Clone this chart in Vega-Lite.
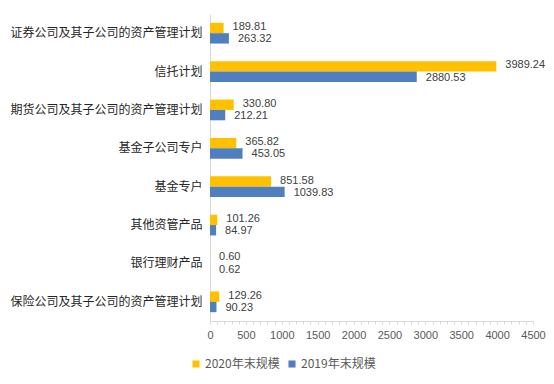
{
  "$schema": "https://vega.github.io/schema/vega-lite/v6.json",
  "width": 323,
  "height": 307,
  "autosize": {"type": "none"},
  "padding": {"left": 210, "top": 14, "right": 21, "bottom": 63},
  "background": "white",
  "config": {
    "view": {"stroke": null},
    "font": "Noto Sans CJK SC"
  },
  "data": {
    "values": [
      {"category": "证券公司及其子公司的资产管理计划", "series": "2020年末规模", "value": 189.81},
      {"category": "证券公司及其子公司的资产管理计划", "series": "2019年末规模", "value": 263.32},
      {"category": "信托计划", "series": "2020年末规模", "value": 3989.24},
      {"category": "信托计划", "series": "2019年末规模", "value": 2880.53},
      {"category": "期货公司及其子公司的资产管理计划", "series": "2020年末规模", "value": 330.80},
      {"category": "期货公司及其子公司的资产管理计划", "series": "2019年末规模", "value": 212.21},
      {"category": "基金子公司专户", "series": "2020年末规模", "value": 365.82},
      {"category": "基金子公司专户", "series": "2019年末规模", "value": 453.05},
      {"category": "基金专户", "series": "2020年末规模", "value": 851.58},
      {"category": "基金专户", "series": "2019年末规模", "value": 1039.83},
      {"category": "其他资管产品", "series": "2020年末规模", "value": 101.26},
      {"category": "其他资管产品", "series": "2019年末规模", "value": 84.97},
      {"category": "银行理财产品", "series": "2020年末规模", "value": 0.60},
      {"category": "银行理财产品", "series": "2019年末规模", "value": 0.62},
      {"category": "保险公司及其子公司的资产管理计划", "series": "2020年末规模", "value": 129.26},
      {"category": "保险公司及其子公司的资产管理计划", "series": "2019年末规模", "value": 90.23}
    ]
  },
  "encoding": {
    "y": {
      "field": "category",
      "type": "nominal",
      "sort": null,
      "scale": {"paddingInner": 0.46, "paddingOuter": 0.23},
      "axis": {
        "title": null,
        "ticks": false,
        "domainColor": "#d9d9d9",
        "labelFontSize": 12,
        "labelColor": "#262626",
        "labelPadding": 8,
        "labelLimit": 220
      }
    },
    "yOffset": {
      "field": "series",
      "type": "nominal",
      "sort": ["2020年末规模", "2019年末规模"]
    },
    "x": {
      "field": "value",
      "type": "quantitative",
      "scale": {"domain": [0, 4500], "nice": false},
      "axis": {
        "title": null,
        "grid": false,
        "values": [0,100,200,300,400,500,600,700,800,900,1000,1100,1200,1300,1400,1500,1600,1700,1800,1900,2000,2100,2200,2300,2400,2500,2600,2700,2800,2900,3000,3100,3200,3300,3400,3500,3600,3700,3800,3900,4000,4100,4200,4300,4400,4500],
        "format": "d",
        "labelExpr": "datum.value % 500 === 0 ? datum.label : ''",
        "labelOverlap": false,
        "labelBound": false,
        "labelFlush": false,
        "tickSize": 3,
        "tickColor": "#d9d9d9",
        "domainColor": "#d9d9d9",
        "labelFontSize": 11,
        "labelColor": "#595959",
        "labelPadding": 5,
        "labelFont": "Liberation Sans"
      }
    }
  },
  "layer": [
    {
      "mark": {"type": "bar"},
      "encoding": {
        "color": {
          "field": "series",
          "type": "nominal",
          "sort": ["2020年末规模", "2019年末规模"],
          "scale": {"domain": ["2020年末规模", "2019年末规模"], "range": ["#FFC000", "#4F7FBE"]},
          "legend": {
            "title": null,
            "orient": "none",
            "direction": "horizontal",
            "legendX": -20,
            "legendY": 344,
            "symbolType": "square",
            "symbolSize": 50,
            "symbolStrokeWidth": 0,
            "labelFontSize": 12,
            "labelColor": "#595959",
            "columnPadding": 6,
            "labelOffset": 3
          }
        }
      }
    },
    {
      "transform": [{"filter": "datum.series === '2020年末规模'"}],
      "mark": {"type": "text", "align": "left", "baseline": "middle", "dx": 9, "dy": -1, "fontSize": 11, "color": "#404040", "font": "Liberation Sans"},
      "encoding": {
        "text": {"field": "value", "type": "quantitative", "format": ".2f"}
      }
    },
    {
      "transform": [{"filter": "datum.series === '2019年末规模'"}],
      "mark": {"type": "text", "align": "left", "baseline": "middle", "dx": 9, "dy": 1, "fontSize": 11, "color": "#404040", "font": "Liberation Sans"},
      "encoding": {
        "text": {"field": "value", "type": "quantitative", "format": ".2f"}
      }
    }
  ]
}
